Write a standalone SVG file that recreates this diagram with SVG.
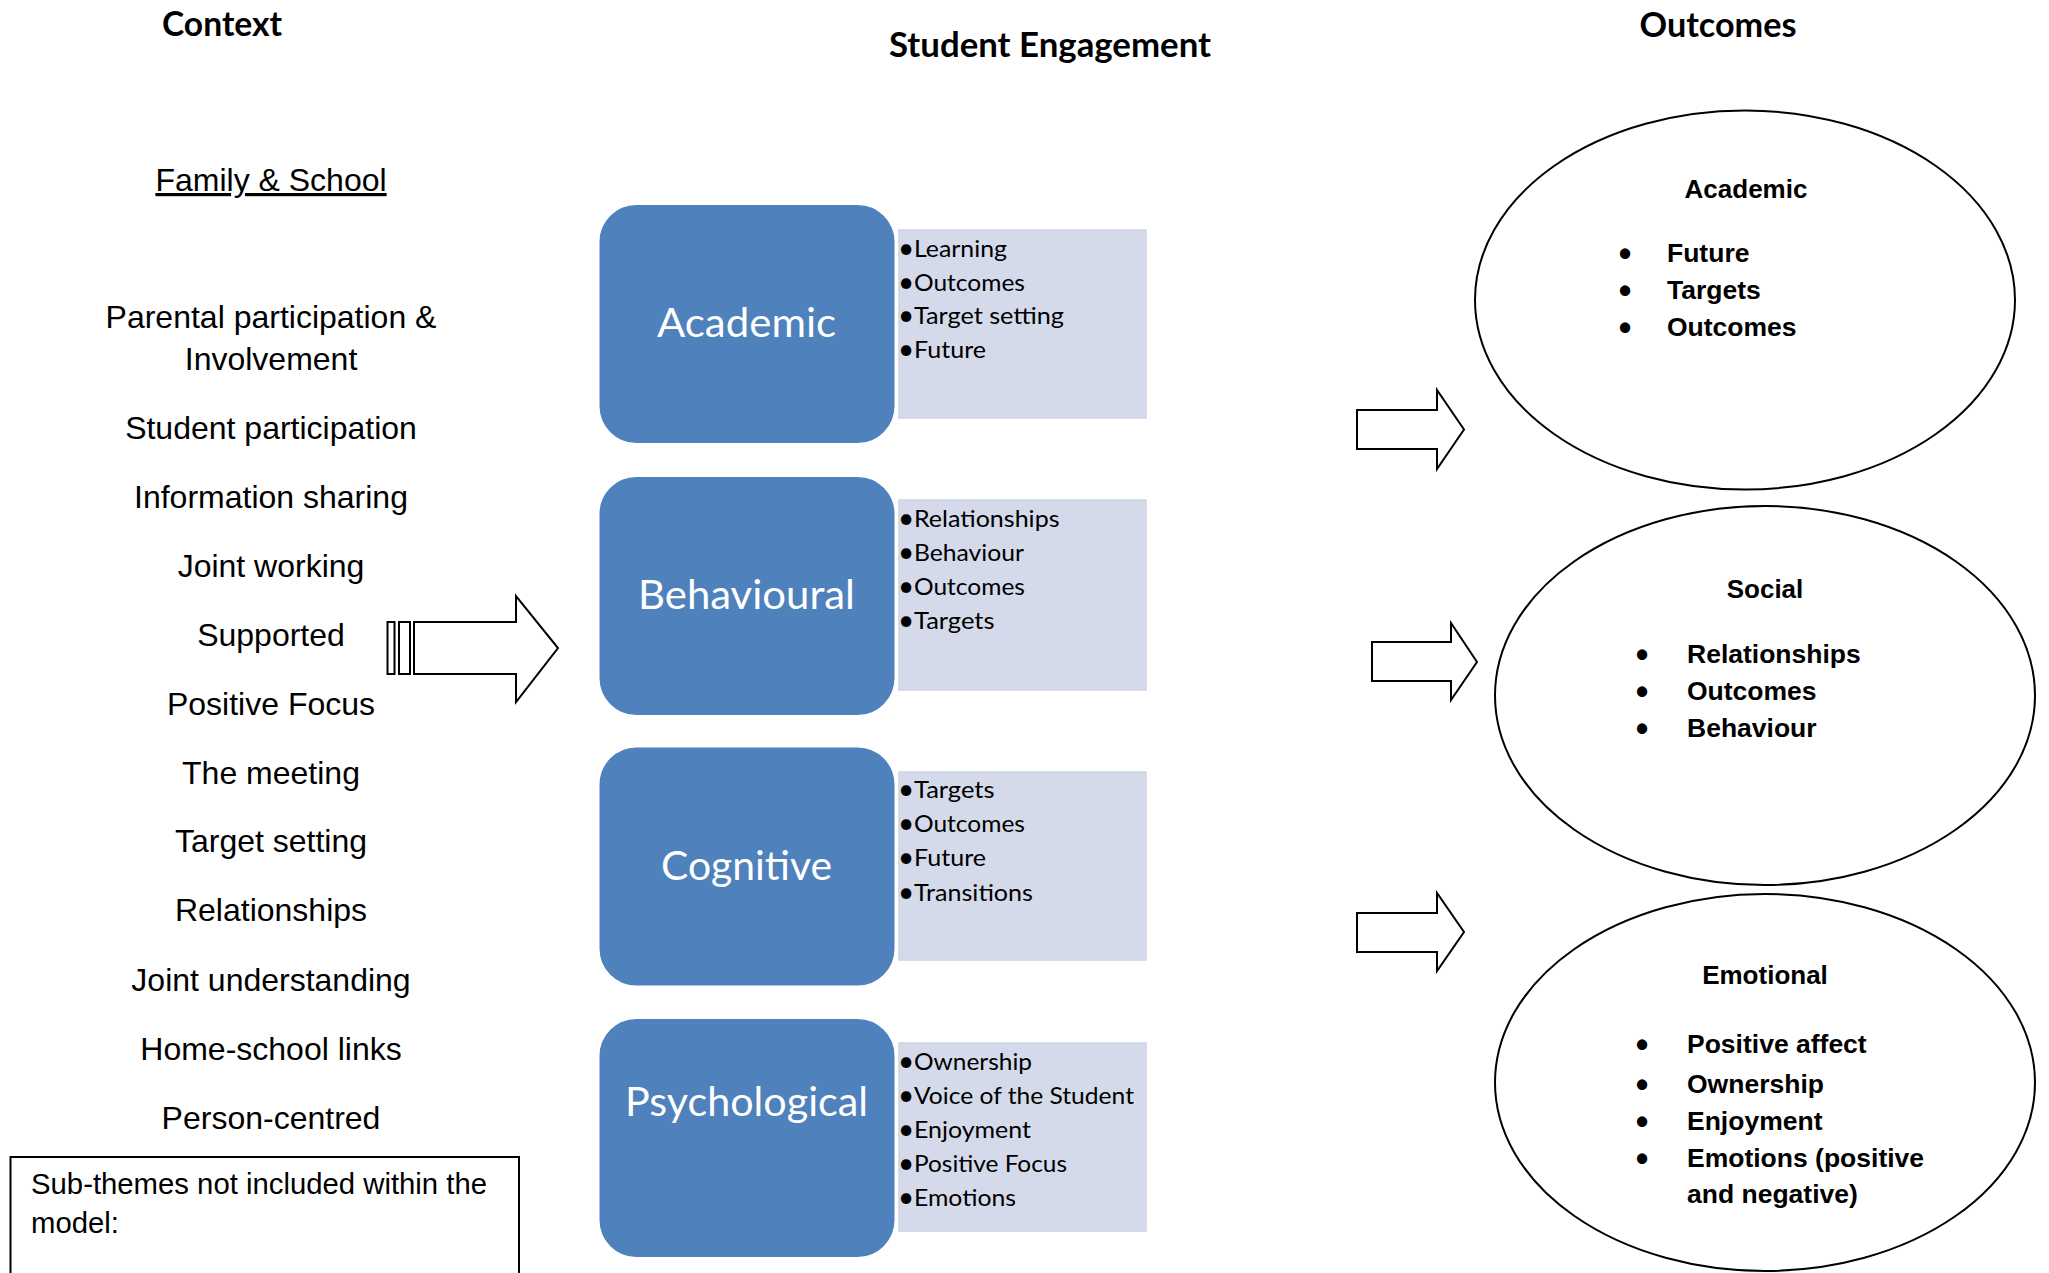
<svg xmlns="http://www.w3.org/2000/svg" width="2049" height="1273" viewBox="0 0 2049 1273">
<style>
.hd{font-family:Lato,"Liberation Sans",sans-serif;font-weight:bold;font-size:33.5px;fill:#000;text-anchor:middle}
.ctx{font-family:"Liberation Sans",Arial,sans-serif;font-size:32px;fill:#000;text-anchor:middle}
.sub{font-family:"Liberation Sans",Arial,sans-serif;font-size:29.3px;fill:#000}
.box{fill:#fff;stroke:#000;stroke-width:2}
.blue{fill:#4F81BD;stroke:#fff;stroke-width:2}
.lite{fill:#D4DAEA;stroke:#CDD4E6;stroke-width:1.5}
.ttl{font-family:Lato,"Open Sans",sans-serif;font-size:40.8px;fill:#fff;text-anchor:middle}
.itm{font-family:Lato,"Open Sans",sans-serif;font-size:24px;fill:#000}
.bul{font-family:Lato,"Open Sans",sans-serif;font-size:28px;fill:#000;text-anchor:middle}
.ell{fill:#fff;stroke:#000;stroke-width:2}
.oh{font-family:"Liberation Sans",Arial,sans-serif;font-weight:bold;font-size:26px;fill:#000;text-anchor:middle}
.ob{font-family:"Liberation Sans",Arial,sans-serif;font-weight:bold;font-size:26.5px;fill:#000}
.obu{font-family:"Liberation Sans",Arial,sans-serif;font-weight:bold;font-size:36px;fill:#000;text-anchor:middle}
.arr{fill:#fff;stroke:#000;stroke-width:2;stroke-linejoin:miter}
</style>

<g id="headings">
<text class="hd" x="222" y="36" textLength="120" lengthAdjust="spacingAndGlyphs">Context</text>
<text class="hd" x="1050" y="57" textLength="322" lengthAdjust="spacingAndGlyphs">Student Engagement</text>
<text class="hd" x="1718" y="37" textLength="157" lengthAdjust="spacingAndGlyphs">Outcomes</text>
</g>

<g id="context">
<text class="ctx" x="271" y="191" text-decoration="underline">Family &amp; School</text>
<text class="ctx" x="271" y="328">Parental participation &amp;</text>
<text class="ctx" x="271" y="370">Involvement</text>
<text class="ctx" x="271" y="439">Student participation</text>
<text class="ctx" x="271" y="508">Information sharing</text>
<text class="ctx" x="271" y="577">Joint working</text>
<text class="ctx" x="271" y="646">Supported</text>
<text class="ctx" x="271" y="715">Positive Focus</text>
<text class="ctx" x="271" y="784">The meeting</text>
<text class="ctx" x="271" y="852">Target setting</text>
<text class="ctx" x="271" y="921">Relationships</text>
<text class="ctx" x="271" y="991">Joint understanding</text>
<text class="ctx" x="271" y="1060">Home-school links</text>
<text class="ctx" x="271" y="1129">Person-centred</text>
</g>

<g id="subthemes">
<rect class="box" x="10.5" y="1157" width="508.5" height="140"/>
<text class="sub" x="31" y="1194">Sub-themes not included within the</text>
<text class="sub" x="31" y="1233">model:</text>
</g>

<g id="academic">
<rect class="lite" x="899" y="230" width="247" height="188"/>
<rect class="blue" x="598.5" y="204" width="297" height="240" rx="38" ry="38"/>
<text class="ttl" x="746.5" y="337" textLength="179" lengthAdjust="spacingAndGlyphs">Academic</text>
<text class="bul" x="906" y="258">•</text><text class="itm" x="914" y="257" textLength="93" lengthAdjust="spacingAndGlyphs">Learning</text>
<text class="bul" x="906" y="292">•</text><text class="itm" x="914" y="291" textLength="111" lengthAdjust="spacingAndGlyphs">Outcomes</text>
<text class="bul" x="906" y="325">•</text><text class="itm" x="914" y="324" textLength="150" lengthAdjust="spacingAndGlyphs">Target setting</text>
<text class="bul" x="906" y="359">•</text><text class="itm" x="914" y="358" textLength="72" lengthAdjust="spacingAndGlyphs">Future</text>
</g>

<g id="behavioural">
<rect class="lite" x="899" y="500" width="247" height="190"/>
<rect class="blue" x="598.5" y="476" width="297" height="240" rx="38" ry="38"/>
<text class="ttl" x="746.5" y="609" textLength="217" lengthAdjust="spacingAndGlyphs">Behavioural</text>
<text class="bul" x="906" y="528">•</text><text class="itm" x="914" y="527" textLength="145.5" lengthAdjust="spacingAndGlyphs">Relationships</text>
<text class="bul" x="906" y="562">•</text><text class="itm" x="914" y="561" textLength="110" lengthAdjust="spacingAndGlyphs">Behaviour</text>
<text class="bul" x="906" y="596">•</text><text class="itm" x="914" y="595" textLength="111" lengthAdjust="spacingAndGlyphs">Outcomes</text>
<text class="bul" x="906" y="630">•</text><text class="itm" x="914" y="629" textLength="80.5" lengthAdjust="spacingAndGlyphs">Targets</text>
</g>

<g id="cognitive">
<rect class="lite" x="899" y="772" width="247" height="188"/>
<rect class="blue" x="598.5" y="746.5" width="297" height="240" rx="38" ry="38"/>
<text class="ttl" x="746.5" y="880" textLength="171" lengthAdjust="spacingAndGlyphs">Cognitive</text>
<text class="bul" x="906" y="799">•</text><text class="itm" x="914" y="798" textLength="80.5" lengthAdjust="spacingAndGlyphs">Targets</text>
<text class="bul" x="906" y="833">•</text><text class="itm" x="914" y="832" textLength="111" lengthAdjust="spacingAndGlyphs">Outcomes</text>
<text class="bul" x="906" y="867">•</text><text class="itm" x="914" y="866" textLength="72" lengthAdjust="spacingAndGlyphs">Future</text>
<text class="bul" x="906" y="902">•</text><text class="itm" x="914" y="901" textLength="119" lengthAdjust="spacingAndGlyphs">Transitions</text>
</g>

<g id="psychological">
<rect class="lite" x="899" y="1043" width="247" height="188"/>
<rect class="blue" x="598.5" y="1018" width="297" height="240" rx="38" ry="38"/>
<text class="ttl" x="746.5" y="1116" textLength="243" lengthAdjust="spacingAndGlyphs">Psychological</text>
<text class="bul" x="906" y="1071">•</text><text class="itm" x="914" y="1070" textLength="118" lengthAdjust="spacingAndGlyphs">Ownership</text>
<text class="bul" x="906" y="1105">•</text><text class="itm" x="914" y="1104" textLength="220" lengthAdjust="spacingAndGlyphs">Voice of the Student</text>
<text class="bul" x="906" y="1139">•</text><text class="itm" x="914" y="1138" textLength="117" lengthAdjust="spacingAndGlyphs">Enjoyment</text>
<text class="bul" x="906" y="1173">•</text><text class="itm" x="914" y="1172" textLength="153" lengthAdjust="spacingAndGlyphs">Positive Focus</text>
<text class="bul" x="906" y="1207">•</text><text class="itm" x="914" y="1206" textLength="102" lengthAdjust="spacingAndGlyphs">Emotions</text>
</g>

<g id="outcome-academic">
<ellipse class="ell" cx="1745" cy="300" rx="270" ry="189.5"/>
<text class="oh" x="1746" y="198">Academic</text>
<text class="obu" x="1625" y="266">•</text><text class="ob" x="1667" y="262">Future</text>
<text class="obu" x="1625" y="303">•</text><text class="ob" x="1667" y="299">Targets</text>
<text class="obu" x="1625" y="340">•</text><text class="ob" x="1667" y="336">Outcomes</text>
</g>

<g id="outcome-social">
<ellipse class="ell" cx="1765" cy="695.5" rx="270" ry="189.5"/>
<text class="oh" x="1765" y="598">Social</text>
<text class="obu" x="1642" y="667">•</text><text class="ob" x="1687" y="663">Relationships</text>
<text class="obu" x="1642" y="704">•</text><text class="ob" x="1687" y="700">Outcomes</text>
<text class="obu" x="1642" y="741">•</text><text class="ob" x="1687" y="737">Behaviour</text>
</g>

<g id="outcome-emotional">
<ellipse class="ell" cx="1765" cy="1082.5" rx="270" ry="188.5"/>
<text class="oh" x="1765" y="984">Emotional</text>
<text class="obu" x="1642" y="1057">•</text><text class="ob" x="1687" y="1053">Positive affect</text>
<text class="obu" x="1642" y="1097">•</text><text class="ob" x="1687" y="1093">Ownership</text>
<text class="obu" x="1642" y="1134">•</text><text class="ob" x="1687" y="1130">Enjoyment</text>
<text class="obu" x="1642" y="1171">•</text><text class="ob" x="1687" y="1167">Emotions (positive</text>
<text class="ob" x="1687" y="1203">and negative)</text>
</g>

<g id="connectors">
<rect class="arr" x="387.5" y="622" width="7" height="52" stroke-width="1.5"/>
<rect class="arr" x="399" y="622" width="11" height="52" stroke-width="1.5"/>
<polygon class="arr" points="414,622 516,622 516,596 558,648 516,702 516,674 414,674"/>
<polygon class="arr" points="1357,410 1437,410 1437,390 1464,429.5 1437,469 1437,449 1357,449"/>
<polygon class="arr" points="1372,642 1451,642 1451,623 1477,662 1451,700 1451,681 1372,681"/>
<polygon class="arr" points="1357,913 1437,913 1437,893 1464,932 1437,971 1437,952 1357,952"/>
</g>
</svg>
